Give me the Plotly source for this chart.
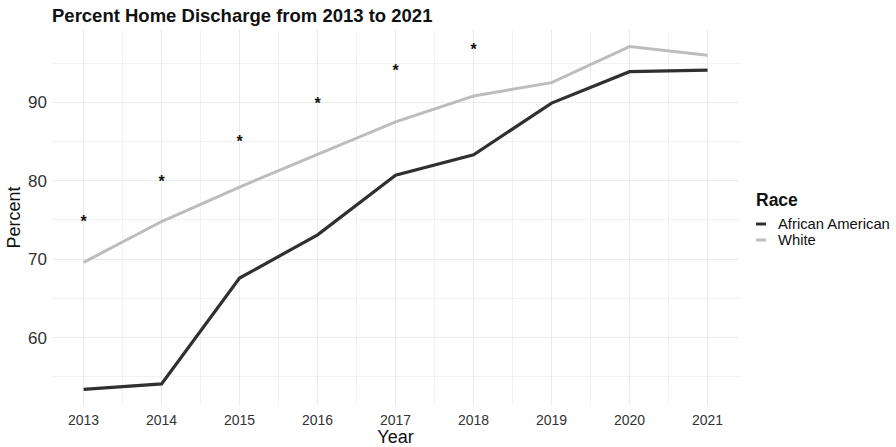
import plotly.graph_objects as go

years = [2013, 2014, 2015, 2016, 2017, 2018, 2019, 2020, 2021]
african_american = [53.4, 54.1, 67.6, 73.1, 80.7, 83.3, 89.9, 93.9, 94.1]
white = [69.6, 74.8, 79.2, 83.35, 87.5, 90.8, 92.5, 97.1, 96.0]
sig_years = [2013, 2014, 2015, 2016, 2017, 2018]
sig_values = [74.6, 79.7, 84.75, 89.7, 93.9, 96.5]
series_names = ["African American", "White"]
series_colors = ["#303030", "#bdbdbd"]
y_ticks = [60, 70, 80, 90]

FONT = "Liberation Sans, Arial, sans-serif"

fig = go.Figure()
fig.add_trace(go.Scatter(x=years, y=white, mode="lines", name=series_names[1],
                         line=dict(color=series_colors[1], width=3), showlegend=False))
fig.add_trace(go.Scatter(x=years, y=african_american, mode="lines", name=series_names[0],
                         line=dict(color=series_colors[0], width=3.2), showlegend=False))
fig.add_trace(go.Scatter(x=sig_years, y=sig_values, mode="text", text=["<b>*</b>"] * len(sig_years),
                         textposition="middle center",
                         textfont=dict(family=FONT, size=16, color="#111111"),
                         showlegend=False, hoverinfo="skip"))

# Legend drawn manually (ggplot style)
fig.add_annotation(xref="paper", yref="paper", x=(754 - 52) / 687, y=1 - (200 - 30) / 375,
                   text="<b>Race</b>", showarrow=False, xanchor="left", yanchor="middle",
                   font=dict(family=FONT, size=17.5, color="#111111"))
for i, (nm, col) in enumerate(zip(series_names, series_colors)):
    ypix = 224 + 16 * i
    yp = 1 - (ypix - 30) / 375
    fig.add_shape(type="line", xref="paper", yref="paper",
                  x0=(756 - 52) / 687, x1=(766 - 52) / 687, y0=yp, y1=yp,
                  line=dict(color=col, width=3))
    fig.add_annotation(xref="paper", yref="paper", x=(776 - 52) / 687, y=yp,
                       text=nm, showarrow=False, xanchor="left", yanchor="middle",
                       font=dict(family=FONT, size=14.8, color="#111111"))

fig.update_layout(
    width=896, height=447,
    margin=dict(l=52, r=157, t=30, b=42),
    paper_bgcolor="white", plot_bgcolor="white",
    font=dict(family=FONT, color="#333333"),
    title=dict(text="<b>Percent Home Discharge from 2013 to 2021</b>",
               x=52 / 896, xanchor="left", y=1 - 16 / 447, yanchor="middle",
               font=dict(family=FONT, size=18.5, color="#111111")),
    showlegend=False,
)
fig.update_xaxes(range=[2012.595, 2021.403], tickvals=years, ticktext=[str(y) for y in years],
                 automargin=False,
                 tickfont=dict(size=14, color="#333333"), ticklabelstandoff=5,
                 showgrid=True, gridcolor="#ebebeb", gridwidth=1,
                 minor=dict(dtick=0.5, tick0=2012.5, showgrid=True, gridcolor="#f2f2f2", gridwidth=1),
                 zeroline=False, showline=False, ticks="",
                 title=dict(text="Year", font=dict(size=18, color="#111111"), standoff=1))
fig.update_yaxes(range=[51.42, 99.21], tickvals=y_ticks, automargin=False,
                 tickfont=dict(size=17, color="#333333"), ticklabelstandoff=4,
                 showgrid=True, gridcolor="#ebebeb", gridwidth=1,
                 minor=dict(dtick=5, tick0=55, showgrid=True, gridcolor="#f2f2f2", gridwidth=1),
                 zeroline=False, showline=False, ticks="",
                 title=dict(text="Percent", font=dict(size=18, color="#111111"), standoff=2))

fig.write_html("out.html")
